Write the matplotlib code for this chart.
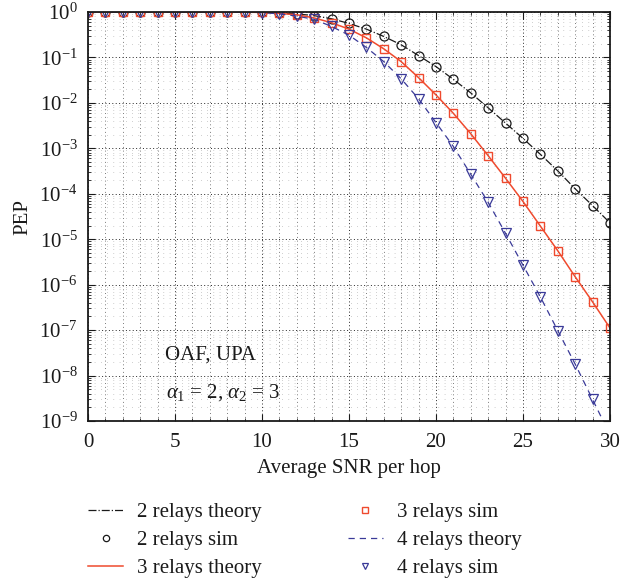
import numpy as np
import matplotlib
matplotlib.use("Agg")
import matplotlib.pyplot as plt
from matplotlib.ticker import LogLocator, MultipleLocator, NullFormatter

plt.rcParams['font.family'] = ['Liberation Serif', 'DejaVu Serif']
plt.rcParams['mathtext.fontset'] = 'custom'
plt.rcParams['mathtext.rm'] = 'Liberation Serif'
plt.rcParams['mathtext.it'] = 'Liberation Serif:italic'

# Average SNR per hop (dB)
snr = list(range(0, 31))

# Pairwise error probability
pep_2relays = [1.0, 1.0, 1.0, 1.0, 1.0, 1.0, 1.0, 1.0, 1.0, 0.99,
               0.98, 0.93, 0.91, 0.83, 0.71, 0.56, 0.42, 0.29, 0.19, 0.11,
               6.3e-2, 3.3e-2, 1.66e-2, 7.8e-3, 3.6e-3, 1.66e-3, 7.4e-4, 3.2e-4,
               1.29e-4, 5.5e-5, 2.3e-5]
pep_3relays = [1.0, 1.0, 1.0, 1.0, 1.0, 1.0, 1.0, 1.0, 1.0, 0.99,
               0.98, 0.93, 0.87, 0.74, 0.58, 0.42, 0.27, 0.155, 8.1e-2, 3.6e-2,
               1.5e-2, 5.9e-3, 2.1e-3, 6.9e-4, 2.2e-4, 6.8e-5, 1.95e-5, 5.6e-6,
               1.5e-6, 4.2e-7, 1.12e-7]
pep_4relays = [1.0, 1.0, 1.0, 1.0, 1.0, 1.0, 1.0, 1.0, 1.0, 0.99,
               0.97, 0.91, 0.81, 0.69, 0.48, 0.31, 0.166, 8.1e-2, 3.4e-2, 1.23e-2,
               3.7e-3, 1.1e-3, 2.7e-4, 6.5e-5, 1.35e-5, 2.7e-6, 5.4e-7, 9.8e-8,
               1.8e-8, 3.0e-9, 5.0e-10]

series_labels = ["2 relays", "3 relays", "4 relays"]

black = "#1a1a1a"
red = "#ef4a2e"
blue = "#3a3a98"

fig = plt.figure(figsize=(6.34, 5.82), dpi=100)
ax = fig.add_axes([0.1388, 0.2766, 0.8232, 0.7028])

fs = 15

h1, = ax.semilogy(snr, pep_2relays, linestyle='-.', color=black, lw=0.9,
                  label=f"{series_labels[0]} theory")
h2, = ax.semilogy(snr, pep_2relays, linestyle='none', marker='o', ms=6.5,
                  mfc='none', mec=black, mew=0.9, label=f"{series_labels[0]} sim")
h3, = ax.semilogy(snr, pep_3relays, linestyle='-', color=red, lw=1.1,
                  label=f"{series_labels[1]} theory")
h4, = ax.semilogy(snr, pep_3relays, linestyle='none', marker='s', ms=6,
                  mfc='none', mec=red, mew=1.0, label=f"{series_labels[1]} sim")
h5, = ax.semilogy(snr, pep_4relays, linestyle=(0, (5, 4)), color=blue, lw=0.9,
                  label=f"{series_labels[2]} theory")
h6, = ax.semilogy(snr, pep_4relays, linestyle='none', marker='v', ms=6.5,
                  mfc='none', mec=blue, mew=0.9, label=f"{series_labels[2]} sim")

ax.set_xlim(0, 30)
ax.set_ylim(1e-9, 1)
ax.xaxis.set_major_locator(MultipleLocator(5))
ax.xaxis.set_minor_locator(MultipleLocator(1))
ax.yaxis.set_major_locator(LogLocator(base=10, numticks=20))
ax.yaxis.set_minor_locator(LogLocator(base=10, subs=np.arange(2, 10), numticks=20))
ax.yaxis.set_minor_formatter(NullFormatter())

# dotted grid: dense at decades / every 5 dB, sparse columns at every 1 dB
ax.grid(True, which='major', linestyle=(0, (1, 2.5)), color='0.15', lw=0.7)
ax.grid(True, which='minor', axis='x', linestyle=(0, (1, 3.5)), color='0.3', lw=0.6)
ax.grid(True, which='minor', axis='y', linestyle=(0, (1, 9)), color='0.55', lw=0.45)

ax.tick_params(which='both', direction='in', top=True, right=True,
               labelsize=fs, colors=black)
ax.tick_params(which='major', length=5, width=0.8)
ax.tick_params(which='minor', length=2.5, width=0.6)
ax.tick_params(axis='x', which='both', pad=8.5)
ax.tick_params(axis='y', which='both', pad=7.5)
for sp in ax.spines.values():
    sp.set_color(black)
    sp.set_linewidth(1.3)

ax.set_xlabel("Average SNR per hop", fontsize=fs, color=black, labelpad=5)
ax.set_ylabel("PEP", fontsize=fs, color=black, labelpad=5)

ax.text(4.4, 10**-7.55, "OAF, UPA", fontsize=fs, va='center', ha='left', color=black)
ax.text(4.5, 10**-8.38, r"$\alpha_1$ = 2, $\alpha_2$ = 3", fontsize=fs,
        va='center', ha='left', color=black)

fig.legend(handles=[h1, h2, h3, h4, h5, h6], ncol=2, frameon=False,
           fontsize=fs, loc='upper left', bbox_to_anchor=(88 / 634, 0.137),
           borderpad=0, borderaxespad=0, markerscale=0.7,
           handlelength=1.7, handletextpad=0.67, columnspacing=4.1,
           labelspacing=0.41, labelcolor=black)

fig.savefig("out.png", dpi=100)
